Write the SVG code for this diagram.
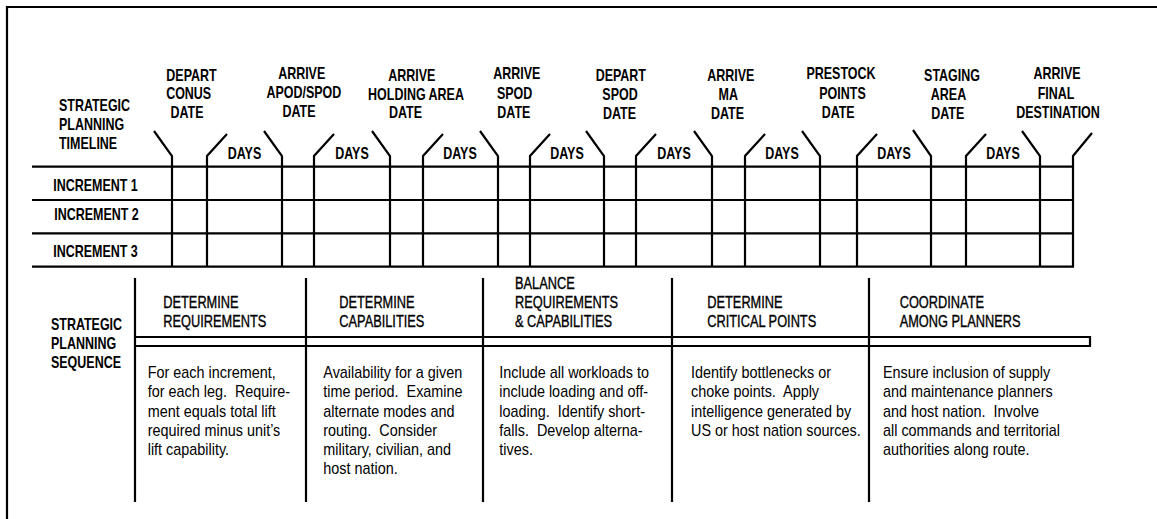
<svg xmlns="http://www.w3.org/2000/svg" width="1157" height="519" viewBox="0 0 1157 519">
<style>
.b{font-family:"Liberation Sans",Arial,sans-serif;font-weight:700;font-size:16px;fill:#000}
.h{font-family:"Liberation Sans",Arial,sans-serif;font-weight:400;font-size:16px;fill:#000;stroke:#000;stroke-width:0.35}
.t{font-family:"Liberation Sans",Arial,sans-serif;font-weight:400;font-size:16px;fill:#000;white-space:pre}
.c{text-anchor:middle}
.ln{stroke:#000;stroke-width:2.2;fill:none;stroke-linecap:butt}
</style>
<rect width="1157" height="519" fill="#fff"/>

<g id="frame"><path class="ln" d="M7,519 V7 H1157" stroke-width="2.5"/></g>

<g id="connectors">
  <!-- timeline grid horizontals -->
  <path class="ln" d="M32,166.7 H1074 M32,200 H1074 M32,233.3 H1074 M32,266.7 H1074"/>
  <!-- milestone brackets -->
  <path class="ln" d="M154,131 L172,156 V267 M207,267 V156 L227,134"/>
  <path class="ln" d="M264,131 L282,156 V267 M314,267 V156 L334,134"/>
  <path class="ln" d="M372,131 L390,156 V267 M423,267 V156 L443,134"/>
  <path class="ln" d="M480,131 L498,156 V267 M530,267 V156 L550,134"/>
  <path class="ln" d="M586,131 L604,156 V267 M636,267 V156 L656,134"/>
  <path class="ln" d="M694,131 L712,156 V267 M745,267 V156 L765,134"/>
  <path class="ln" d="M802,131 L820,156 V267 M857,267 V156 L877,134"/>
  <path class="ln" d="M913,130 L931,156 V267 M966,267 V156 L986,134"/>
  <path class="ln" d="M1022,131 L1040,156 V267 M1073,267 V156 L1092,133"/>
  <!-- sequence band and dividers -->
  <path class="ln" d="M135,337 H1090 V346 H135"/>
  <path class="ln" d="M135,278 V502 M306,278 V502 M483,278 V502 M672,278 V502 M869,278 V502"/>
</g>

<g id="timeline-title"><text class="b" transform="translate(59,111) scale(0.78,1)"><tspan x="0">STRATEGIC</tspan><tspan x="0" dy="19">PLANNING</tspan><tspan x="0" dy="19">TIMELINE</tspan></text></g>

<g id="ms1"><text class="b c" transform="translate(190,80.7) scale(0.78,1)"><tspan x="1.9">DEPART</tspan><tspan x="-1.7" dy="18.6">CONUS</tspan><tspan x="-3.8" dy="19">DATE</tspan></text></g>
<g id="ms2"><text class="b c" transform="translate(302,79.3) scale(0.78,1)"><tspan x="-0.4">ARRIVE</tspan><tspan x="2.3" dy="19">APOD/SPOD</tspan><tspan x="-3.8" dy="18.4">DATE</tspan></text></g>
<g id="ms3"><text class="b c" transform="translate(411,81) scale(0.78,1)"><tspan x="0.9">ARRIVE</tspan><tspan x="6.4" dy="19">HOLDING AREA</tspan><tspan x="-7" dy="18">DATE</tspan></text></g>
<g id="ms4"><text class="b c" transform="translate(515,79.3) scale(0.78,1)"><tspan x="2.2">ARRIVE</tspan><tspan x="-0.6" dy="19.7">SPOD</tspan><tspan x="-1.5" dy="18.7">DATE</tspan></text></g>
<g id="ms5"><text class="b c" transform="translate(620,81) scale(0.78,1)"><tspan x="1">DEPART</tspan><tspan x="0" dy="19">SPOD</tspan><tspan x="-0.6" dy="19">DATE</tspan></text></g>
<g id="ms6"><text class="b c" transform="translate(729,81) scale(0.78,1)"><tspan x="2.2">ARRIVE</tspan><tspan x="-0.9" dy="19">MA</tspan><tspan x="-1.9" dy="19">DATE</tspan></text></g>
<g id="ms7"><text class="b c" transform="translate(841,79.3) scale(0.78,1)"><tspan x="0">PRESTOCK</tspan><tspan x="1.9" dy="19.7">POINTS</tspan><tspan x="-3.6" dy="18.7">DATE</tspan></text></g>
<g id="ms8"><text class="b c" transform="translate(950,81) scale(0.78,1)"><tspan x="2.6">STAGING</tspan><tspan x="-1.9" dy="19">AREA</tspan><tspan x="-2.9" dy="19">DATE</tspan></text></g>
<g id="ms9"><text class="b c" transform="translate(1057,79.3) scale(0.78,1)"><tspan x="0">ARRIVE</tspan><tspan x="-1.3" dy="19.7">FINAL</tspan><tspan x="1.3" dy="18.7">DESTINATION</tspan></text></g>

<g id="days">
  <text class="b c" transform="translate(244.5,159) scale(0.78,1)">DAYS</text>
  <text class="b c" transform="translate(352,159) scale(0.78,1)">DAYS</text>
  <text class="b c" transform="translate(460,159) scale(0.78,1)">DAYS</text>
  <text class="b c" transform="translate(567,159) scale(0.78,1)">DAYS</text>
  <text class="b c" transform="translate(674,159) scale(0.78,1)">DAYS</text>
  <text class="b c" transform="translate(782,159) scale(0.78,1)">DAYS</text>
  <text class="b c" transform="translate(894,159) scale(0.78,1)">DAYS</text>
  <text class="b c" transform="translate(1003,159) scale(0.78,1)">DAYS</text>
</g>

<g id="increments">
  <text class="b c" transform="translate(95.5,190.7) scale(0.78,1)">INCREMENT 1</text>
  <text class="b c" transform="translate(96.5,220) scale(0.78,1)">INCREMENT 2</text>
  <text class="b c" transform="translate(95.5,256.7) scale(0.78,1)">INCREMENT 3</text>
</g>

<g id="sequence-title"><text class="b" transform="translate(51,330) scale(0.78,1)"><tspan x="0">STRATEGIC</tspan><tspan x="0" dy="19">PLANNING</tspan><tspan x="0" dy="19.3">SEQUENCE</tspan></text></g>

<g id="step1">
  <text class="h" transform="translate(163.3,307.7) scale(0.8,1)"><tspan x="0">DETERMINE</tspan><tspan x="0" dy="19">REQUIREMENTS</tspan></text>
  <text class="t" transform="translate(147.7,378.3) scale(0.9,1)"><tspan x="0">For each increment,</tspan><tspan x="0" dy="19.2">for each leg.  Require-</tspan><tspan x="0" dy="19.2">ment equals total lift</tspan><tspan x="0" dy="19.2">required minus unit’s</tspan><tspan x="0" dy="19.2">lift capability.</tspan></text>
</g>
<g id="step2">
  <text class="h" transform="translate(339.3,307.7) scale(0.8,1)"><tspan x="0">DETERMINE</tspan><tspan x="0" dy="19">CAPABILITIES</tspan></text>
  <text class="t" transform="translate(323.3,378.3) scale(0.9,1)"><tspan x="0">Availability for a given</tspan><tspan x="0" dy="19.2">time period.  Examine</tspan><tspan x="0" dy="19.2">alternate modes and</tspan><tspan x="0" dy="19.2">routing.  Consider</tspan><tspan x="0" dy="19.2">military, civilian, and</tspan><tspan x="0" dy="19.2">host nation.</tspan></text>
</g>
<g id="step3">
  <text class="h" transform="translate(515,289) scale(0.8,1)"><tspan x="0">BALANCE</tspan><tspan x="0" dy="18.7">REQUIREMENTS</tspan><tspan x="0" dy="19">&amp; CAPABILITIES</tspan></text>
  <text class="t" transform="translate(499.3,378.3) scale(0.9,1)"><tspan x="0">Include all workloads to</tspan><tspan x="0" dy="19.2">include loading and off-</tspan><tspan x="0" dy="19.2">loading.  Identify short-</tspan><tspan x="0" dy="19.2">falls.  Develop alterna-</tspan><tspan x="0" dy="19.2">tives.</tspan></text>
</g>
<g id="step4">
  <text class="h" transform="translate(707.3,307.7) scale(0.8,1)"><tspan x="0">DETERMINE</tspan><tspan x="0" dy="19">CRITICAL POINTS</tspan></text>
  <text class="t" transform="translate(691,378.3) scale(0.9,1)"><tspan x="0">Identify bottlenecks or</tspan><tspan x="0" dy="19.2">choke points.  Apply</tspan><tspan x="0" dy="19.2">intelligence generated by</tspan><tspan x="0" dy="19.2">US or host nation sources.</tspan></text>
</g>
<g id="step5">
  <text class="h" transform="translate(899.7,307.7) scale(0.8,1)"><tspan x="0">COORDINATE</tspan><tspan x="0" dy="19">AMONG PLANNERS</tspan></text>
  <text class="t" transform="translate(883,378.3) scale(0.9,1)"><tspan x="0">Ensure inclusion of supply</tspan><tspan x="0" dy="19.2">and maintenance planners</tspan><tspan x="0" dy="19.2">and host nation.  Involve</tspan><tspan x="0" dy="19.2">all commands and territorial</tspan><tspan x="0" dy="19.2">authorities along route.</tspan></text>
</g>
</svg>
